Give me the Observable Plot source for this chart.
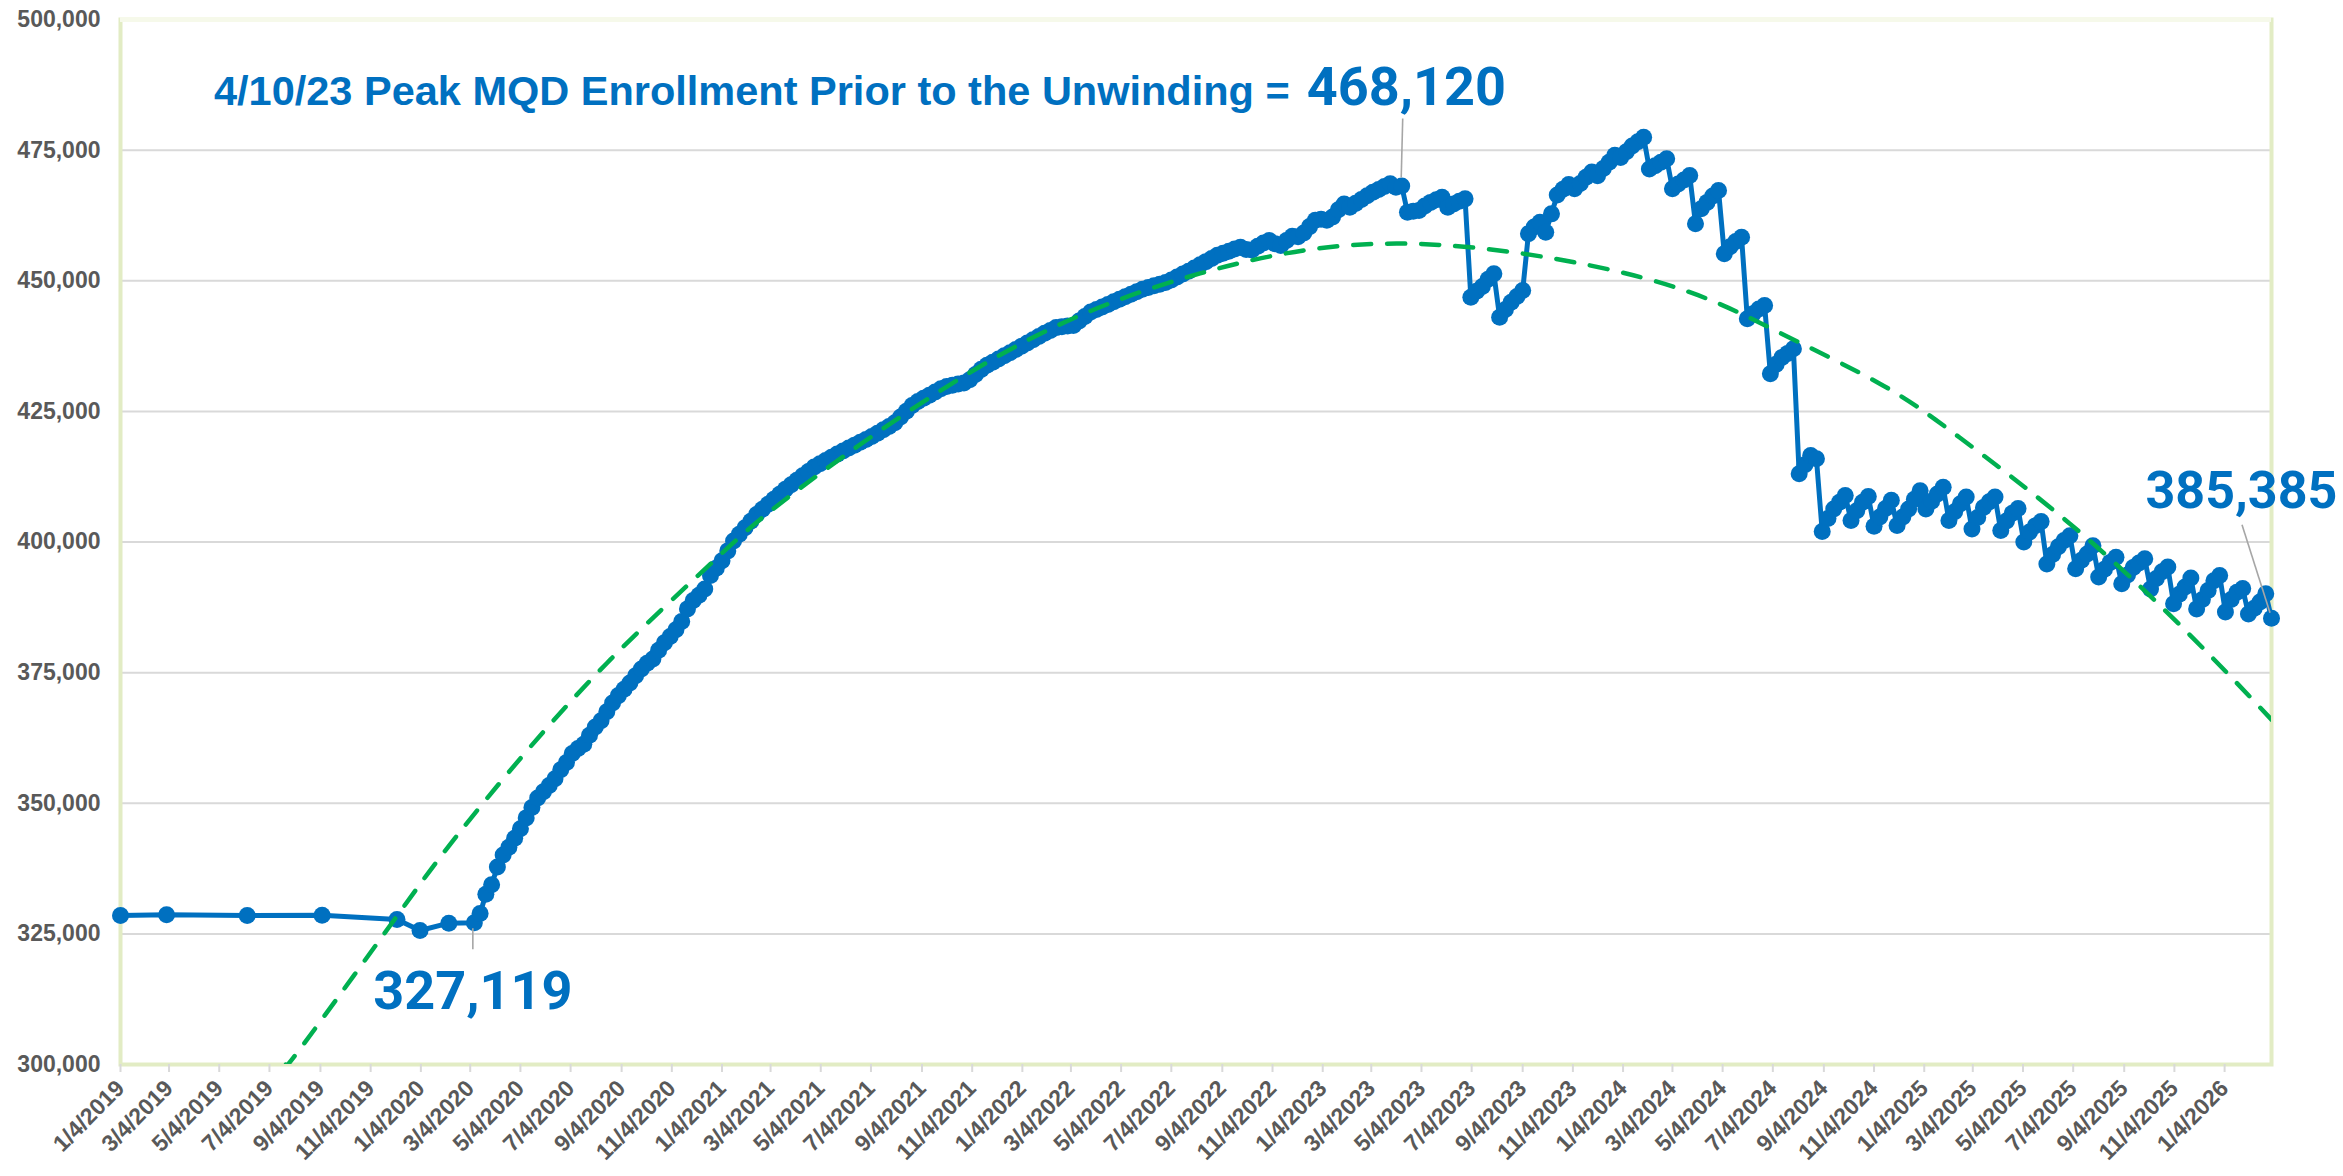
<!DOCTYPE html>
<html><head><meta charset="utf-8">
<script src="https://cdn.jsdelivr.net/npm/d3@7"></script>
<script src="https://cdn.jsdelivr.net/npm/@observablehq/plot@0.6"></script>
<style>
html,body{margin:0;padding:0;background:#fff;overflow:hidden;}
svg{display:block;}
</style></head><body><div id="chart"></div>
<script>
// ---- Data ----
// Early (roughly monthly) snapshots
const monthlyDates  = ["2019-01-04","2019-03-01","2019-06-07","2019-09-06","2019-12-06","2020-01-03","2020-02-07"];
const monthlyValues = [328500, 328650, 328500, 328550, 327750, 325650, 327050];

// Weekly values (one per week, starting on the given Monday)
const weeklyStartA = "2020-03-09";
const weeklyA = [
  327119,328900,332600,334400,337800,340100,341600,343300,345100,347200,
  349200,351000,352200,353400,354700,356400,357800,359500,360500,361300,
  363000,364600,365800,367500,369200,370600,371800,373000,374400,375700,
  376800,377600,379300,380700,381900,383200,384800,387200,388800,389800,
  391000,393600,395000,396400,398300,400200,401480,402730,403990,405260,
  406250,407220,408200,409150,410090,410940,411800,412660,413510,414350,
  414970,415580,416200,416820,417430,417990,418540,419080,419630,420200,
  420830,421470,422100,422820,423930,425040,426130,426890,427500,428100,
  428720,429330,429740,429980,430220,430450,431050,432050,433040,433810,
  434420,435020,435630,436240,436840,437470
];
const weeklyStartB = "2022-01-10";
const weeklyB = [
  438100,438710,439330,439940,440480,441030,441210,441320,441430,442300,
  443170,444020,444510,444990,445470,445960,446440,446930,447420,447900,
  448380,448720,449030,449340,449660,450150,450710,451270,451820,452420,
  453050,453660,454280,454880,455270,455660,456060,456420,456000,455900,
  456620,457220,457700,457100,456740,457700,458520,458400,459160,460360,
  461580,461750,461600,462180,463570,464700,464070,464810,465540,466280,
  466930,467480,468030,468550,467900,468120,463120,463300,463440,464300,
  465000,465500,465990,464070,464700,465200,465670,446850,448000,448900,
  450300,451330,443030,444500,445900,447000,448130,459000,460300,461200,
  459300,462800,466400,467500,468400,467600,468600,469800,470800,470100,
  471500,472700,474000,473600
];
const weeklyStartC = "2024-01-08";
const weeklyC = [
  474700,475800,476600,477470,471400,472000,472700,473340,467600,468500,
  469300,470140,460900,463770,465000,466200,467270,455160,456500,457500,
  458340,442710,443700,444600,445260,432190,434000,435300,436100,436970,
  413050,414800,416550,415920,402000,404500,406300,407600,408900,404100,
  406000,407600,408700,403000,404800,406400,408000,403150,404800,406300,
  408200,409800,406300,407800,409200,410500,404100,405800,407300,408600,
  402500,404700,406600,407700,408600,402200,404000,405500,406400,400000,
  401900,403100,403900,395800,397600,399100,400300,401200,394900,396500,
  397700,399300,393300,394800,396100,397100,392000,393700,395100,396000,
  396800,391000,393000,394300,395200,388200,390000,391400,393100,387200,
  389000,390700,392600,393600,386600,389000,390400,391100,386200,387300,
  388500,390100,385385
];

// Polynomial trend line (green dashed)
const trendDates  = ["2019-07-24","2019-08-15","2019-12-05","2020-01-31","2020-04-18","2020-08-17","2020-12-21","2021-04-09","2021-12-08","2022-08-08","2023-04-17","2024-01-25","2024-07-04","2024-11-11","2025-02-16","2025-07-12","2025-11-26","2026-03-02"];
const trendValues = [300000,304000,328200,340400,355600,376800,395800,410300,435800,451400,457100,450700,440700,430300,420000,401900,381700,366000];

// Axis ticks
const xTickLabels = [
  "1/4/2019","3/4/2019","5/4/2019","7/4/2019","9/4/2019","11/4/2019",
  "1/4/2020","3/4/2020","5/4/2020","7/4/2020","9/4/2020","11/4/2020",
  "1/4/2021","3/4/2021","5/4/2021","7/4/2021","9/4/2021","11/4/2021",
  "1/4/2022","3/4/2022","5/4/2022","7/4/2022","9/4/2022","11/4/2022",
  "1/4/2023","3/4/2023","5/4/2023","7/4/2023","9/4/2023","11/4/2023",
  "1/4/2024","3/4/2024","5/4/2024","7/4/2024","9/4/2024","11/4/2024",
  "1/4/2025","3/4/2025","5/4/2025","7/4/2025","9/4/2025","11/4/2025",
  "1/4/2026"
];
const yTicks = [300000,325000,350000,375000,400000,425000,450000,475000,500000];

// Annotations
const titleText = "4/10/23 Peak MQD Enrollment Prior to the Unwinding =";
const peakPoint  = {date: "2023-04-10", value: 468120, label: "468,120"};
const startPoint = {date: "2020-03-09", value: 327119, label: "327,119"};
const lastPoint  = {date: "2026-03-02", value: 385385, label: "385,385"};

// ---- Build tables ----
const parse = s => new Date(s + "T00:00:00Z");
const parseMDY = s => { const [m,d,y] = s.split("/").map(Number); return new Date(Date.UTC(y, m-1, d)); };
const weekly = (start, vals) => vals.map((v,i) => ({date: d3.utcDay.offset(parse(start), 7*i), value: v}));
const series = [
  ...monthlyDates.map((d,i) => ({date: parse(d), value: monthlyValues[i]})),
  ...weekly(weeklyStartA, weeklyA),
  ...weekly(weeklyStartB, weeklyB),
  ...weekly(weeklyStartC, weeklyC)
];
const trend = trendDates.map((d,i) => ({date: parse(d), value: trendValues[i]}));
const xTicks = xTickLabels.map(parseMDY);
const ann = p => [{date: parse(p.date), value: p.value, label: p.label}];

const BLUE = "#0070C0", GREEN = "#00B050", GRAY = "#595959", GRID = "#d9d9d9";
const numFont = "Roboto, 'Open Sans', sans-serif";
const axisFont = "'Liberation Sans', Arial, sans-serif";

const chart = Plot.plot({
  width: 2343, height: 1176,
  marginLeft: 120, marginTop: 19, marginRight: 72, marginBottom: 112,
  x: {type: "utc", domain: [parse("2019-01-04"), parse("2026-03-02")], label: null},
  y: {domain: [300000, 500000], label: null},
  style: {fontFamily: axisFont, background: "#fff", overflow: "visible"},
  marks: [
    Plot.gridY(yTicks.slice(1, -1), {stroke: GRID, strokeOpacity: 1, strokeWidth: 2}),
    Plot.frame({stroke: "#e2ecc4", strokeWidth: 4}),
    Plot.ruleY([500000], {stroke: "#f6f9ea", strokeWidth: 5}),
    Plot.axisY(yTicks, {label: null, tickSize: 0, tickPadding: 20, tickFormat: d3.format(","), fill: GRAY, fontSize: 23, fontWeight: 700}),
    Plot.axisX(xTicks, {label: null, tickSize: 8, tickPadding: 12, tickRotate: -45, tickFormat: d3.utcFormat("%-m/%-d/%Y"), stroke: GRID, strokeWidth: 2, fill: GRAY, fontSize: 23, fontWeight: 700}),
    Plot.line(series, {x: "date", y: "value", stroke: BLUE, strokeWidth: 5}),
    Plot.dot(series, {x: "date", y: "value", r: 8.5, fill: BLUE, stroke: "none"}),
    Plot.line(trend, {x: "date", y: "value", stroke: GREEN, strokeWidth: 4.5, strokeDasharray: "18,16", strokeLinecap: "round", curve: "natural", clip: true}),
    Plot.text(ann(peakPoint), {x: "date", y: "value", text: () => titleText, textAnchor: "end", lineAnchor: "bottom", dx: -112, dy: -81, fontSize: 41.5, fontWeight: 700, fill: BLUE, fontFamily: axisFont}),
    Plot.text(ann(peakPoint), {x: "date", y: "value", text: "label", textAnchor: "start", lineAnchor: "bottom", dx: -95, dy: -81, fontSize: 54, fontWeight: 700, fill: BLUE, fontFamily: numFont}),
    Plot.text(ann(startPoint), {x: "date", y: "value", text: "label", textAnchor: "start", lineAnchor: "bottom", dx: -101, dy: 86, fontSize: 54, fontWeight: 700, fill: BLUE, fontFamily: numFont}),
    Plot.text(ann(lastPoint), {x: "date", y: "value", text: "label", textAnchor: "start", lineAnchor: "bottom", dx: -126, dy: -110, fontSize: 52, fontWeight: 700, fill: BLUE, fontFamily: numFont})
  ]
});
document.getElementById("chart").appendChild(chart);

// leader lines drawn from annotated data points using the chart's own scales
const sx = chart.scale("x"), sy = chart.scale("y");
const svg = d3.select(chart);
function leader(p, dx1, dy1, dx2, dy2) {
  const x = sx.apply(parse(p.date)), y = sy.apply(p.value);
  svg.append("line").attr("x1", x + dx1).attr("y1", y + dy1).attr("x2", x + dx2).attr("y2", y + dy2)
     .attr("stroke", "#a6a6a6").attr("stroke-width", 1.6);
}
leader(peakPoint, 0, -8, 1.5, -67);
leader(startPoint, -1, 6, -1, 27);
leader(lastPoint, -1, -5, -29, -93);
</script></body></html>
